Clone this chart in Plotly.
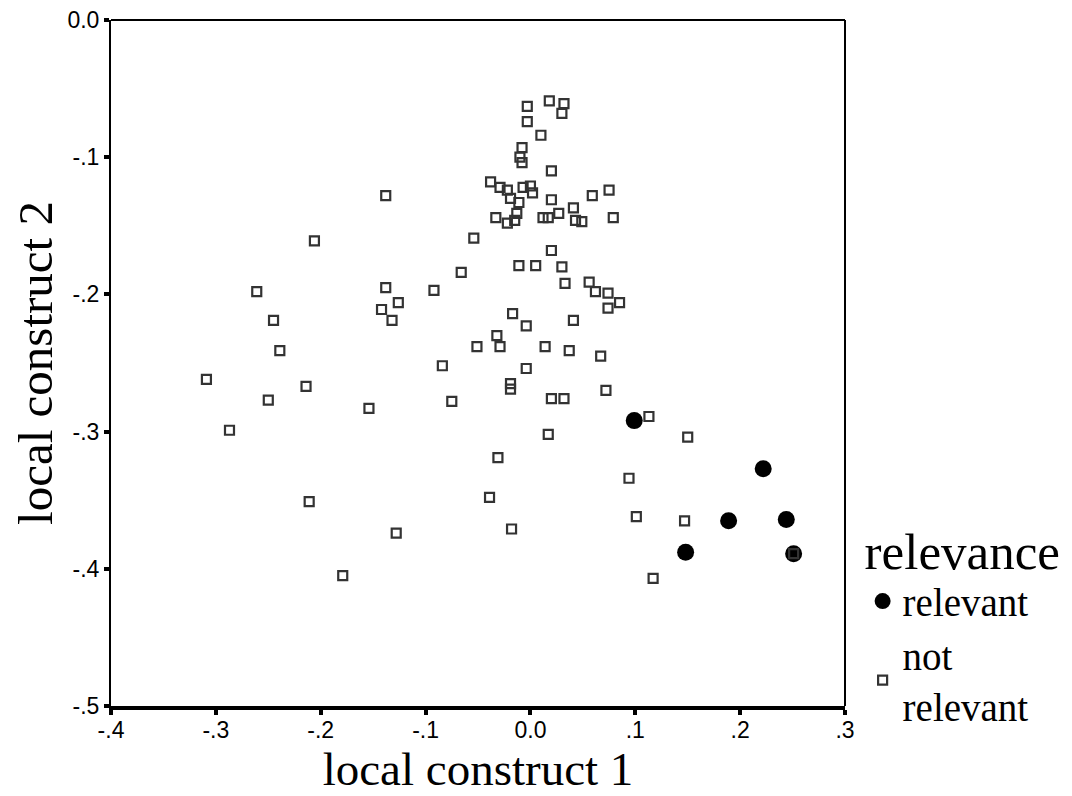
import plotly.graph_objects as go

# not relevant points (local construct 1, local construct 2)
nr_x = [-0.003, 0.018, 0.032, 0.030, -0.003, 0.010, -0.008, -0.010, -0.008, 0.020,
        -0.138, -0.038, -0.029, -0.022, -0.007, 0.000, 0.002, -0.019, -0.011, 0.020,
        0.059, 0.075, 0.041, -0.033, -0.013, -0.022, -0.015, 0.012, 0.017, 0.027,
        0.043, 0.049, 0.079, -0.206, -0.054, 0.020, -0.066, -0.011, 0.005, 0.030,
        0.033, 0.056, 0.062, 0.074, 0.085, 0.074, -0.261, -0.092, -0.138, -0.126,
        -0.142, -0.132, -0.245, -0.017, -0.004, 0.041, -0.239, -0.032, -0.051, -0.029,
        0.014, 0.037, 0.067, -0.084, -0.004, -0.309, -0.214, -0.019, -0.019, -0.250,
        -0.075, 0.020, 0.032, 0.072, -0.154, -0.287, 0.113, 0.017, 0.150, -0.031,
        0.094, -0.039, -0.211, 0.101, 0.147, -0.018, -0.128, -0.179, 0.117, 0.251]
nr_y = [-0.063, -0.059, -0.061, -0.068, -0.074, -0.084, -0.093, -0.100, -0.104, -0.110,
        -0.128, -0.118, -0.122, -0.124, -0.122, -0.121, -0.126, -0.130, -0.133, -0.131,
        -0.128, -0.124, -0.137, -0.144, -0.141, -0.148, -0.146, -0.144, -0.144, -0.141,
        -0.146, -0.147, -0.144, -0.161, -0.159, -0.168, -0.184, -0.179, -0.179, -0.180,
        -0.192, -0.191, -0.198, -0.199, -0.206, -0.210, -0.198, -0.197, -0.195, -0.206,
        -0.211, -0.219, -0.219, -0.214, -0.223, -0.219, -0.241, -0.230, -0.238, -0.238,
        -0.238, -0.241, -0.245, -0.252, -0.254, -0.262, -0.267, -0.265, -0.269, -0.277,
        -0.278, -0.276, -0.276, -0.270, -0.283, -0.299, -0.289, -0.302, -0.304, -0.319,
        -0.334, -0.348, -0.351, -0.362, -0.365, -0.371, -0.374, -0.405, -0.407, -0.389]

# relevant points
r_x = [0.099, 0.222, 0.189, 0.244, 0.148, 0.251]
r_y = [-0.292, -0.327, -0.365, -0.364, -0.388, -0.389]

x_ticks = [-0.4, -0.3, -0.2, -0.1, 0.0, 0.1, 0.2, 0.3]
x_labels = ["-.4", "-.3", "-.2", "-.1", "0.0", ".1", ".2", ".3"]
y_ticks = [0.0, -0.1, -0.2, -0.3, -0.4, -0.5]
y_labels = ["0.0", "-.1", "-.2", "-.3", "-.4", "-.5"]

serif = "Liberation Serif, Times New Roman, serif"
sans = "Liberation Sans, Arial, sans-serif"

fig = go.Figure()
fig.add_trace(go.Scatter(
    x=r_x, y=r_y, mode="markers", name="relevant",
    marker=dict(symbol="circle", size=17, color="black",
                line=dict(width=0)),
))
fig.add_trace(go.Scatter(
    x=nr_x, y=nr_y, mode="markers", name="not<br>relevant",
    marker=dict(symbol="square-open", size=9, color="#333333",
                line=dict(width=2.2, color="#333333")),
))

# page body adds an 8px offset, so the figure is 8px smaller than the window
fig.update_layout(
    width=1064, height=788,
    margin=dict(l=103, r=227, t=12, b=90, autoexpand=False),
    paper_bgcolor="white", plot_bgcolor="white",
    showlegend=True,
    legend=dict(
        x=1.024, y=0.296, xanchor="left", yanchor="top",
        title=dict(text="relevance", font=dict(family=serif, size=51, color="black")),
        font=dict(family=serif, size=39, color="black"),
        itemsizing="trace", traceorder="normal",
        bgcolor="rgba(0,0,0,0)",
    ),
    xaxis=dict(
        range=[-0.4, 0.3], tickvals=x_ticks, ticktext=x_labels,
        showgrid=False, zeroline=False, automargin=False,
        showline=True, linecolor="black", linewidth=4,
        ticks="outside", ticklen=5, tickwidth=4, tickcolor="black",
        ticklabelstandoff=-5, ticklabeloverflow="allow",
        tickfont=dict(family=sans, size=23, color="black"),
        title=dict(text="local construct 1",
                   font=dict(family=serif, size=47, color="black"), standoff=0),
    ),
    yaxis=dict(
        range=[-0.5, 0.0], tickvals=y_ticks, ticktext=y_labels,
        showgrid=False, zeroline=False, automargin=False,
        showline=True, linecolor="black", linewidth=2,
        ticks="outside", ticklen=5, tickwidth=4, tickcolor="black",
        ticklabeloverflow="allow",
        tickfont=dict(family=sans, size=23, color="black"),
        title=dict(text="local construct 2",
                   font=dict(family=serif, size=49, color="black"), standoff=4),
    ),
)

# top and right frame lines
fig.add_shape(type="line", xref="paper", yref="paper", x0=0, x1=1, y0=1, y1=1,
              line=dict(color="black", width=2))
fig.add_shape(type="line", xref="paper", yref="paper", x0=1, x1=1, y0=0, y1=1,
              line=dict(color="black", width=2))

fig.write_html("out.html")
